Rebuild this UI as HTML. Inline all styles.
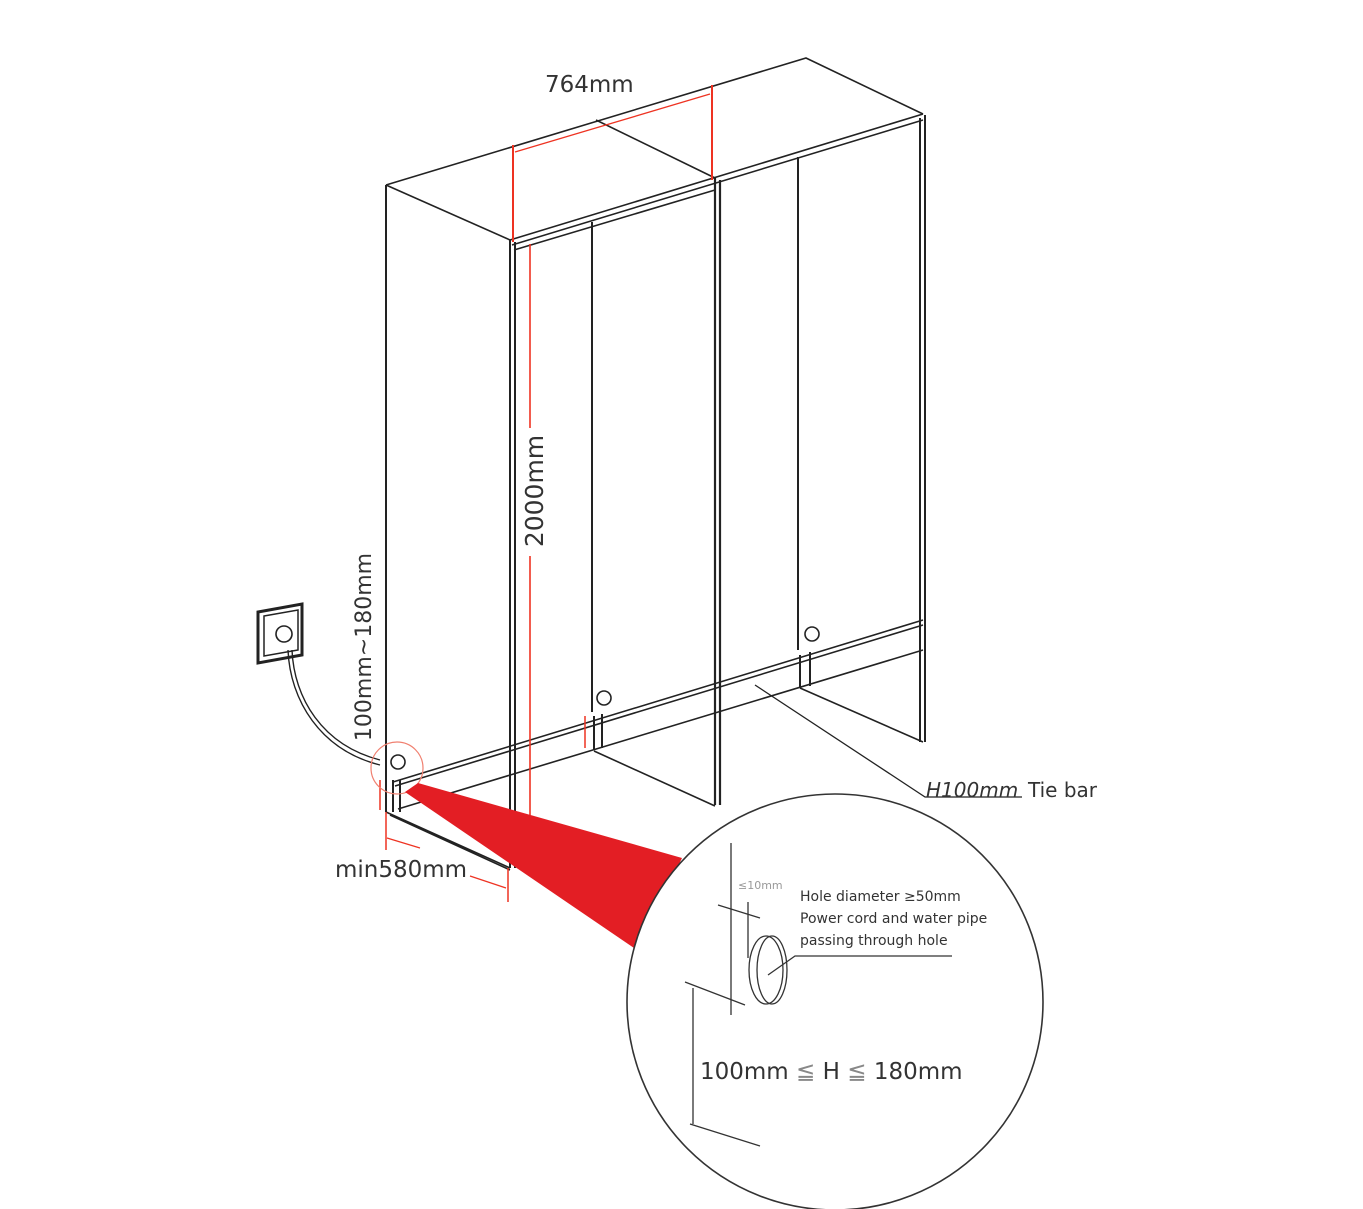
<!DOCTYPE html>
<html><head><meta charset="utf-8"><style>
html,body{margin:0;padding:0;background:#fff}
svg{display:block}
text{font-family:"DejaVu Sans","Liberation Sans",sans-serif}
</style></head><body>
<svg width="1363" height="1209" viewBox="0 0 1363 1209" xmlns="http://www.w3.org/2000/svg">
<g fill="none" stroke="#222" stroke-width="1.6">
<path d="M386 185 L806 58 L923 114"/>
<path d="M386 185 L510 240"/>
<path d="M596 120 L715 178"/>
<path d="M510 240 L923 114 M512 245 L923 120 M514 250 L715 190"/>
<path d="M386 185 V812" stroke-width="2"/>
<path d="M510 240 V868 M515 242 V868" stroke-width="2"/>
<path d="M715 178 V805 M720 180 V805" stroke-width="2.2"/>
<path d="M920 118 V742 M925 115 V742" stroke-width="2"/>
<path d="M592 222 V712" stroke-width="2"/>
<path d="M798 157 V650" stroke-width="2"/>
<path d="M393 782 L923 620 M395 786 L923 625" stroke-width="1.6"/>
<path d="M398 809 L923 650"/>
<path d="M393 780 V812 M400 780 V812" stroke-width="2"/>
<path d="M386 812 L510 868 M390 815 L510 870"/>
<path d="M594 716 V750 M602 714 V748" stroke-width="2"/>
<path d="M594 751 L715 806"/>
<path d="M800 655 V688 M810 652 V686" stroke-width="2"/>
<path d="M800 688 L923 742"/>
<circle cx="398" cy="762" r="7"/><circle cx="604" cy="698" r="7"/><circle cx="812" cy="634" r="7"/>
<path d="M755 685 L925 797 L1022 797" stroke-width="1.3"/>
<path d="M258 612 L302 604 V655 L258 663 Z" stroke-width="3"/>
<path d="M264 616 L298 610 V650 L264 656 Z" stroke-width="1.5"/>
<circle cx="284" cy="634" r="8"/>
<path d="M288 650 C290 700 320 750 380 765 M292 650 C294 698 322 745 380 760" stroke-width="1.4"/>
</g>
<g stroke="#e32" fill="none" stroke-width="2">
<path d="M513 145 V242 M712 85 V180"/>
<path d="M515 152 L710 94" stroke-width="1.3"/>
<path d="M530 244 V428 M530 556 V815" stroke-width="1.6"/>
<path d="M508 868 V902 M386 812 V850" stroke-width="1.5"/>
<path d="M387 838 L420 848 M470 876 L506 888" stroke-width="1.2"/>
<path d="M380 780 V810 M585 716 V748" stroke-width="1.5"/>
<circle cx="397" cy="768" r="26" stroke-width="1.2" stroke="#f08070"/>
</g>
<polygon points="418,783 682,858 637,950 405,792" fill="#e31e24"/>
<circle cx="835" cy="1002" r="208" fill="#fff" stroke="#333" stroke-width="1.6"/>
<g fill="none" stroke="#333" stroke-width="1.3">
<path d="M731 843 V1015 M748 902 V958"/>
<path d="M718 905 L760 918"/>
<ellipse cx="766" cy="970" rx="17" ry="34" fill="#fff"/>
<ellipse cx="772" cy="970" rx="15" ry="34"/>
<path d="M768 975 L795 956 L952 956"/>
<path d="M685 982 L745 1005 M693 988 V1124 M690 1124 L760 1146"/>
</g>
<g fill="#333">
<text x="545" y="92" font-size="23">764mm</text>
<text transform="translate(543,491) rotate(-90)" text-anchor="middle" font-size="25">2000mm</text>
<text transform="translate(371,647) rotate(-90)" text-anchor="middle" font-size="22">100mm~180mm</text>
<text x="335" y="877" font-size="23">min580mm</text>
<text x="926" y="797" font-size="20" font-style="italic">H100mm</text>
<text x="1028" y="797" font-size="20">Tie bar</text>
<text x="738" y="889" font-size="11" fill="#999">≤10mm</text>
<text x="800" y="901" font-size="14">Hole diameter ≥50mm</text>
<text x="800" y="923" font-size="14">Power cord and water pipe</text>
<text x="800" y="945" font-size="14">passing through hole</text>
<text x="700" y="1079" font-size="23">100mm <tspan fill="#888">≦</tspan> H <tspan fill="#888">≦</tspan> 180mm</text>
</g>
</svg>
</body></html>
